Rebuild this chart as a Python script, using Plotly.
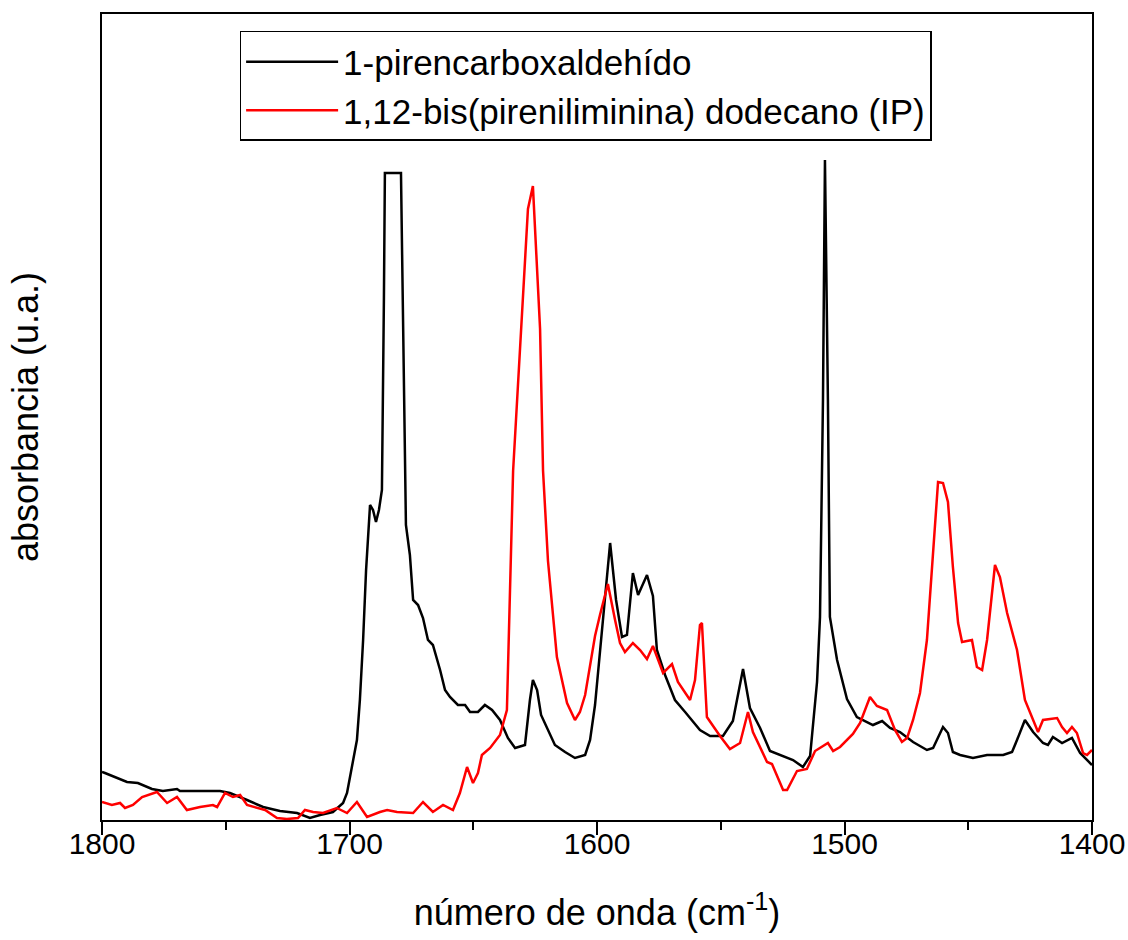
import plotly.graph_objects as go

# 1-pirencarboxaldehído (wavenumber cm-1, absorbance a.u.)
wn_ald = [1800, 1798.8, 1789.9, 1785.5, 1779.8, 1775.4, 1769.7, 1768.5, 1752.3, 1748.3,
          1741.4, 1734.9, 1728.1, 1721.2, 1716.0, 1711.9, 1706.7, 1702.6, 1701.0, 1699.0,
          1697.0, 1695.8, 1694.5, 1693.3, 1691.7, 1690.5, 1689.3, 1688.1, 1686.9, 1686.1,
          1685.7, 1679.2, 1678.0, 1677.2, 1675.6, 1674.3, 1672.3, 1670.3, 1668.3, 1666.3,
          1663.4, 1661.4, 1659.4, 1656.2, 1653.3, 1651.3, 1648.1, 1645.3, 1642.4, 1639.2,
          1636.0, 1633.1, 1629.1, 1627.1, 1625.9, 1624.2, 1622.6, 1619.8, 1617.0, 1612.9,
          1608.9, 1604.8, 1602.8, 1600.8, 1598.8, 1596.8, 1594.7, 1592.3, 1589.9, 1587.9,
          1585.5, 1583.4, 1579.8, 1577.4, 1575.8, 1572.5, 1568.5, 1564.4, 1558.4, 1554.3,
          1549.1, 1545.1, 1541.0, 1538.2, 1534.1, 1530.1, 1524.8, 1520.8, 1516.8, 1513.9,
          1511.1, 1509.9, 1508.7, 1507.9, 1506.7, 1505.9, 1503.0, 1499.0, 1495.0, 1488.5,
          1484.8, 1481.6, 1477.6, 1472.3, 1466.7, 1464.2, 1460.2, 1458.2, 1456.2, 1453.3,
          1448.1, 1442.4, 1435.9, 1432.3, 1430.3, 1427.1, 1423.8, 1419.8, 1417.8, 1415.8,
          1412.1, 1408.1, 1404.8, 1400]
abs_ald = [48, 47, 38, 37, 31, 29, 31, 29, 29, 27,
           20, 13, 9, 7, 2, 5, 8, 17, 27, 53,
           80, 120, 180, 250, 315, 310, 298, 310, 330, 520,
           647, 647, 420, 295, 265, 220, 215, 202, 180, 175,
           150, 130, 123, 115, 115, 108, 108, 115, 110, 100,
           82, 72, 75, 120, 140, 130, 105, 90, 75, 68,
           62, 65, 80, 115, 170, 220, 277, 220, 183, 185,
           247, 225, 245, 224, 170, 145, 120, 108, 90, 84,
           84, 99, 151, 112, 92, 69, 64, 60, 53, 64,
           138, 203, 420, 660, 420, 203, 160, 121, 103, 95,
           99, 92, 88, 78, 70, 72, 93, 87, 68, 65,
           62, 65, 65, 68, 80, 100, 88, 77, 75, 83,
           77, 82, 67, 55]

# 1,12-bis(pireniliminina) dodecano (IP)
wn_ip = [1800, 1796.0, 1792.7, 1790.7, 1787.5, 1783.8, 1777.8, 1773.7, 1769.7, 1765.7,
         1760.4, 1755.2, 1753.5, 1750.3, 1747.1, 1744.2, 1741.4, 1737.4, 1734.1, 1729.3,
         1725.3, 1720.8, 1718.0, 1714.7, 1710.7, 1705.1, 1701.0, 1697.0, 1692.9, 1687.7,
         1684.8, 1680.8, 1674.3, 1670.3, 1666.3, 1662.2, 1658.2, 1655.4, 1652.5, 1650.1,
         1648.1, 1646.5, 1643.2, 1639.2, 1636.4, 1633.9, 1629.9, 1627.9, 1625.9, 1623.0,
         1621.8, 1619.8, 1616.2, 1612.1, 1608.9, 1606.9, 1604.8, 1602.8, 1600.8, 1598.8,
         1595.6, 1592.7, 1590.7, 1588.7, 1585.5, 1582.6, 1579.8, 1577.4, 1573.3, 1569.7,
         1567.3, 1562.4, 1560.4, 1558.4, 1557.6, 1555.6, 1550.3, 1546.3, 1542.2, 1539.0,
         1537.0, 1531.3, 1529.3, 1524.8, 1523.2, 1519.2, 1515.2, 1511.9, 1506.7, 1504.6,
         1501.8, 1496.6, 1493.7, 1489.7, 1486.9, 1482.8, 1479.6, 1476.8, 1474.7, 1472.3,
         1469.5, 1466.7, 1464.6, 1463.4, 1462.2, 1460.2, 1458.2, 1456.2, 1454.1, 1452.5,
         1448.5, 1446.5, 1444.4, 1442.4, 1440.4, 1439.2, 1437.2, 1434.3, 1430.3, 1427.1,
         1421.8, 1419.8, 1414.1, 1412.1, 1410.1, 1408.1, 1406.1, 1403.6, 1402.0, 1400]
abs_ip = [18, 15, 17, 12, 15, 23, 28, 17, 23, 10,
          13, 15, 13, 27, 23, 25, 15, 12, 10, 2,
          1, 2, 10, 8, 7, 12, 7, 18, 3, 8,
          10, 8, 7, 18, 8, 15, 10, 27, 53, 37,
          47, 65, 72, 85, 110, 349, 527, 611, 634, 491,
          349, 259, 163, 117, 100, 108, 125, 155, 184, 205,
          236, 200, 177, 168, 177, 170, 161, 174, 147, 156,
          138, 120, 140, 195, 197, 103, 84, 71, 77, 108,
          88, 58, 56, 30, 30, 49, 51, 69, 77, 69,
          73, 86, 97, 123, 114, 110, 90, 78, 82, 100,
          127, 180, 253, 303, 338, 337, 318, 253, 197, 178,
          180, 153, 150, 180, 227, 255, 243, 207, 170, 120,
          88, 100, 102, 93, 87, 93, 87, 67, 65, 70]

series_names = ["1-pirencarboxaldehído", "1,12-bis(pireniliminina) dodecano (IP)"]
series_colors = ["#000000", "#ff0000"]
x_ticks = [1800, 1700, 1600, 1500, 1400]
x_minor = [1750, 1650, 1550, 1450]

FONT = "Liberation Sans, Arial, sans-serif"

fig = go.Figure()
fig.add_trace(go.Scatter(x=wn_ald, y=abs_ald, mode="lines", name=series_names[0],
                         line=dict(color=series_colors[0], width=2.5)))
fig.add_trace(go.Scatter(x=wn_ip, y=abs_ip, mode="lines", name=series_names[1],
                         line=dict(color=series_colors[1], width=2.5)))

fig.update_layout(
    width=1128, height=940,
    margin=dict(l=102, r=36, t=14, b=120),
    paper_bgcolor="white", plot_bgcolor="white",
    font=dict(family=FONT, color="#000000"),
    showlegend=True,
    legend=dict(x=0.139, y=0.979, xanchor="left", yanchor="top",
                bgcolor="white", bordercolor="#000000", borderwidth=1.5,
                font=dict(size=35, family=FONT), itemwidth=92,
                tracegroupgap=0),
    xaxis=dict(
        range=[1800, 1400], tickmode="array", tickvals=x_ticks,
        ticktext=[str(v) for v in x_ticks],
        ticks="outside", ticklen=13, tickwidth=2, tickcolor="#000000",
        ticklabelstandoff=-17,
        minor=dict(tickvals=x_minor, ticks="outside", ticklen=8,
                   tickwidth=2, tickcolor="#000000"),
        showline=True, linewidth=2, linecolor="#000000", mirror=True,
        showgrid=False, zeroline=False, automargin=False,
        tickfont=dict(size=30, family=FONT),
        title=dict(text="número de onda (cm<sup>-1</sup>)", font=dict(size=36, family=FONT),
                   standoff=41),
    ),
    yaxis=dict(
        range=[0, 806], showticklabels=False, ticks="",
        showline=True, linewidth=2, linecolor="#000000", mirror=True,
        showgrid=False, zeroline=False, automargin=False,
        title=dict(text="absorbancia (u.a.)", font=dict(size=36, family=FONT), standoff=50),
    ),
)

fig.write_html("out.html")
